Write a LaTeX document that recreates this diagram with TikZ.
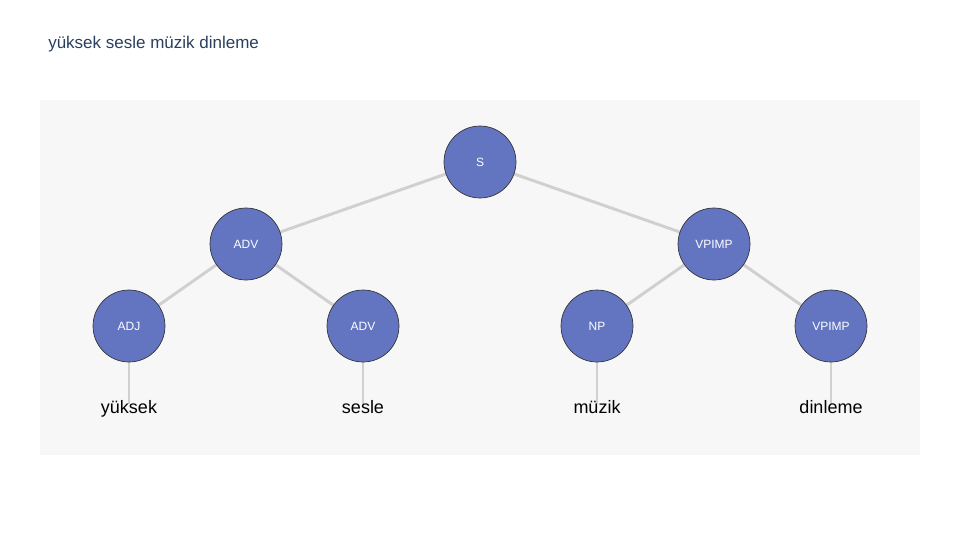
\documentclass[tikz,border=0pt]{standalone}
\usepackage{fontspec}
\setmainfont{Liberation Sans}
\usetikzlibrary{positioning}
\pgfdeclarelayer{back}
\pgfsetlayers{back,main}
\definecolor{titleblue}{HTML}{2A3F5F}
\definecolor{panel}{HTML}{F7F7F7}
\definecolor{nodeblue}{HTML}{6374C1}
\definecolor{edgegray}{HTML}{D0D0D0}
\tikzstyle{tag} = [
  circle, draw = black!80, line width = 0.5pt, fill = nodeblue,
  minimum size = 54pt, inner sep = 0pt, text = white,
  font = \fontsize{9}{10}\selectfont
]
\tikzstyle{word} = [
  anchor = base, inner sep = 0pt, text = black,
  font = \fontsize{13.5}{15}\selectfont
]
\tikzstyle{branch} = [draw = edgegray, line width = 2.2pt]

\begin{document}
\begin{tikzpicture}[x=0.75pt, y=-0.75pt]
    \useasboundingbox (0,0) rectangle (960,540);
    \node[anchor=west, inner sep=0pt, text=titleblue, font=\fontsize{12.75}{14}\selectfont] (title) at (48,44) {yüksek sesle müzik dinleme};

    \node[tag] (s) at (480,162) {S};
    \node[tag] (adv) at (246,244) {ADV};
    \node[tag] (vpimp) at (714,244) {VPIMP};
    \node[tag] (adj) at (129,326) {ADJ};
    \node[tag] (adv2) at (363,326) {ADV};
    \node[tag] (np) at (597,326) {NP};
    \node[tag] (vpimp2) at (831,326) {VPIMP};

    % leaf words, on a common baseline
    \node[word] (w1) at (129,413) {yüksek};
    \node[word] (w2) at (363,413) {sesle};
    \node[word] (w3) at (597,413) {müzik};
    \node[word] (w4) at (831,413) {dinleme};

    % panel and branches go behind nodes and words
    \begin{pgfonlayer}{back}
    \fill[panel] (40,100) rectangle (920,455);
    \path[branch] (s.center) -- (adv.center);
    \path[branch] (s.center) -- (vpimp.center);
    \path[branch] (adv.center) -- (adj.center);
    \path[branch] (adv.center) -- (adv2.center);
    \path[branch] (vpimp.center) -- (np.center);
    \path[branch] (vpimp.center) -- (vpimp2.center);
    \path[branch] (adj.center) -- ([yshift=-3pt]w1.north);
    \path[branch] (adv2.center) -- ([yshift=-3pt]w2.north);
    \path[branch] (np.center) -- ([yshift=-3pt]w3.north);
    \path[branch] (vpimp2.center) -- ([yshift=-3pt]w4.north);
    \end{pgfonlayer}
  \end{tikzpicture}
\end{document}
